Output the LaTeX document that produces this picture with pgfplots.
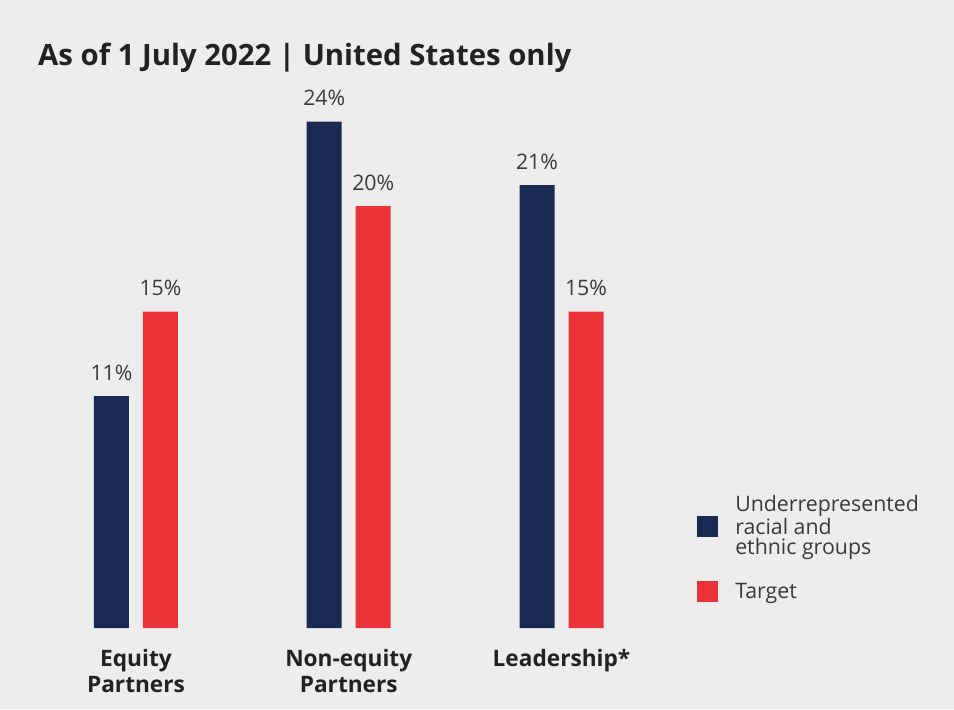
\documentclass[border=0pt]{standalone}
\usepackage{fontspec}
\setmainfont{Open Sans}
\usepackage{pgfplots}
\pgfplotsset{compat=1.18}
\definecolor{navy}{HTML}{1B2A54}
\definecolor{tred}{HTML}{EA3238}
\definecolor{bg}{HTML}{EDEDED}
\definecolor{ink}{HTML}{222222}
\definecolor{soft}{HTML}{3A3A3A}

\begin{document}
\begin{tikzpicture}
\begin{axis}[
    scale only axis,
    width=715.5pt, height=531.75pt,
    xmin=-0.6392, xmax=3.8449,
    ymin=-3.839, ymax=29.763,
    /pgf/number format/assume math mode=true,
    axis background/.style={fill=bg},
    axis line style={draw=none},
    ytick=\empty,
    xtick={0,1,2},
    xticklabels={{Equity\\Partners},{Non-equity\\Partners},{Leadership*}},
    major tick length=0pt,
    xticklabel style={font=\bfseries\fontsize{17}{19.5}\selectfont, text=ink,
        align=center, anchor=north, inner sep=0pt, yshift=45pt},
    ybar=10.5pt, bar width=26.25pt,
    clip=false,
    nodes near coords={\pgfmathprintnumber{\pgfplotspointmeta}\%},
    every node near coord/.append style={font=\fontsize{16}{18}\selectfont,
        text=soft, anchor=base, inner sep=0pt, yshift=12pt},
    legend cell align=left,
    legend image code/.code={
        \fill[#1] (0pt,-7.875pt) rectangle (15.75pt,7.875pt);
        \path (28.5pt,0pt);},
    legend style={at={(rel axis cs:0.7306,0.3018)}, anchor=north west,
        draw=none, fill=none, inner sep=0pt, row sep=18pt,
        font=\fontsize{16}{15.5}\selectfont, text=soft,
        nodes={inner sep=0pt, align=left}},
]
\addplot[fill=navy, draw=none] coordinates {(0,11) (1,24) (2,21)};
\addlegendentry{Underrepresented\\racial and\\ethnic groups}
\addplot[fill=tred, draw=none] coordinates {(0,15) (1,20) (2,15)};
\addlegendentry{Target}

\node[anchor=base west, font=\bfseries\fontsize{22}{27}\selectfont, text=ink,
    inner sep=0pt] at (rel axis cs:0.0398,0.9083)
    {As of 1 July 2022 | United States only};
\end{axis}
\end{tikzpicture}
\end{document}
